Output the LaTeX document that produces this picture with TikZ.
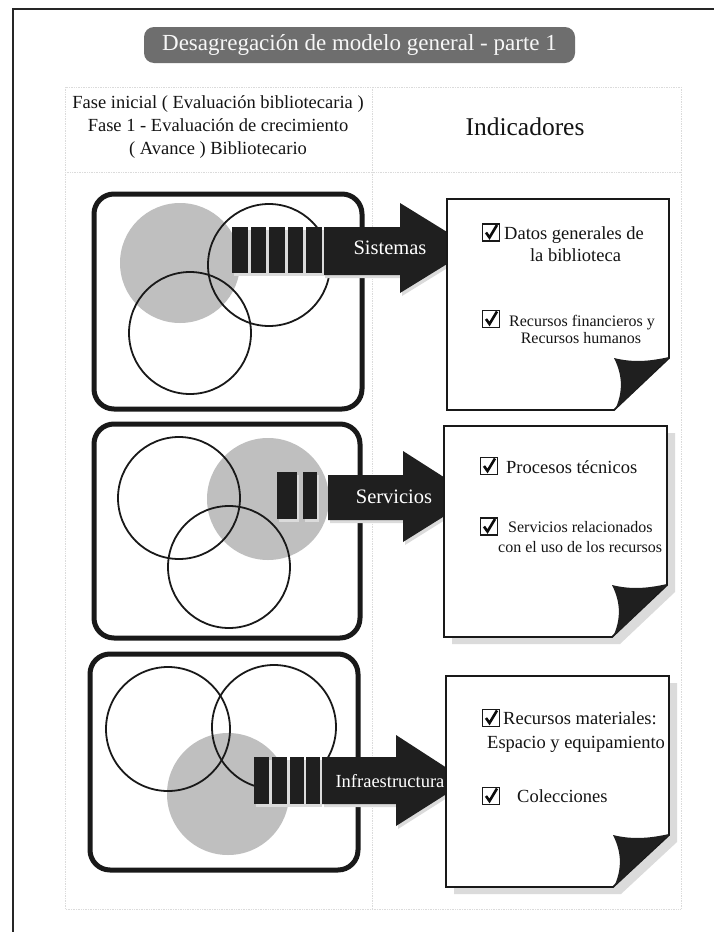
\documentclass[tikz,border=0pt]{standalone}
\usepackage{fontspec}
\setmainfont{Liberation Serif}
\newcommand\fsz[1]{\fontsize{#1}{1.22\dimexpr#1pt\relax}\selectfont}
\tikzset{
  x=1pt, y=-1pt,
  frame/.style={draw=black!85, line width=2.5pt},
  gridline/.style={draw=black!14, line width=0.7pt, densely dotted},
  titlebox/.style={fill=black!57, rounded corners=10pt, inner sep=0pt},
  panel/.style={draw=black!90, line width=5pt, rounded corners=20pt},
  ring/.style={draw=black!90, line width=1.8pt},
  disc/.style={fill=black!25},
  barfill/.style={fill=black!88},
  arrfill/.style={fill=black!88},
  shade/.style={fill=black!14},
  page/.style={draw=black!90, fill=white, line width=1.8pt, line join=miter},
  curl/.style={fill=black!88},
  lbl/.style={text=white, inner sep=0pt},
  txt/.style={inner sep=0pt, text=black!92},
  chkbox/.style={draw=black!90, line width=1.6pt, minimum size=17pt, inner sep=0pt, fill=white},
  chkmark/.style={draw=black!95, line width=2.6pt, line cap=butt, line join=miter},
}
% checkbox: name, x, y
\newcommand\chk[3]{%
  \node[chkbox] (#1) at (#2,#3) {};
  \draw[chkmark] ([shift={(-5,0)}]#1.center) -- ([shift={(-1.5,5)}]#1.center) -- ([shift={(6,-7.5)}]#1.center);
}
% note page: L,T,R,B,Fx,Fy
\newcommand\notepage[6]{%
  \path[page] (#1,#2) -- (#3,#2) -- (#3,#6) -- (#5,#4) -- (#1,#4) -- cycle;
  \fill[curl] (#5,#6) .. controls (#5+20,#6+5) and (#3-18,#6+3) .. (#3,#6-1)
     -- (#5+1,#4) .. controls (#5+9,#4-18) and (#5+9,#6+18) .. (#5,#6) -- cycle;
}
\newcommand\pageshadow[6]{%
  \fill[shade] (#1+8,#2+7) -- (#3+8,#2+7) -- (#3+8,#6+7) -- (#5+8,#4+7) -- (#1+8,#4+7) -- cycle;
}
\begin{document}
\begin{tikzpicture}
\useasboundingbox (0,0) rectangle (714,932);
\fill[white] (0,0) rectangle (714,932);
% outer frame
\draw[frame] (13,934) -- (13,9) -- (716,9);
% table grid
\draw[gridline] (65,87) rectangle (681,909);
\draw[gridline] (372,87) -- (372,909);
\draw[gridline] (65,172) -- (681,172);
% title
\node[titlebox, minimum width=431pt, minimum height=36pt, text=black!3, font=\fsz{23}] (title) at (359.5,45)
  {Desagregación de modelo general - parte 1};
% header
\node[txt, align=center, font={\fontsize{18.5}{23}\selectfont}] (hleft) at (218,127)
  {Fase inicial ( Evaluación bibliotecaria )\\ Fase 1 - Evaluación de crecimiento\\ ( Avance ) Bibliotecario};
\node[txt, font=\fsz{25.5}] (hright) at (525,127) {Indicadores};

% ---------------- Row 1 ----------------
\draw[panel] (94,194) rectangle (362,409);
\fill[disc] (180,263) circle (60pt);
\draw[ring] (269,265) circle (61pt);
\draw[ring] (190,333) circle (61pt);
\begin{scope}[shift={(2,3)}]
  \fill[shade] (232,227) rectangle (321.5,273);
  \fill[shade] (323,227) -- (400,227) -- (400,203) -- (473,248) -- (400,293) -- (400,275) -- (323,275) -- cycle;
\end{scope}
\foreach \i in {0,...,4} { \fill[barfill] (232+\i*18.5,227) rectangle (247.5+\i*18.5,273); }
\fill[arrfill] (324,227) -- (400,227) -- (400,203) -- (473,248) -- (400,293) -- (400,275) -- (324,275) -- cycle;
\node[lbl, font=\fsz{20.5}] (a1) at (390,248) {Sistemas};
\notepage{447}{199}{669}{410}{614}{358}
\chk{c11}{491}{232.5}
\node[txt, anchor=base west, font=\fsz{18.5}] (t11) at (504,239) {Datos generales de};
\node[txt, anchor=base, font=\fsz{18.5}] (t12) at (575.5,261) {la biblioteca};
\chk{c12}{491}{319}
\node[txt, anchor=base west, font=\fsz{16}] (t13) at (509,326.5) {Recursos financieros y};
\node[txt, anchor=base, font=\fsz{16}] (t14) at (581,343) {Recursos humanos};

% ---------------- Row 2 ----------------
\draw[panel] (94,424) rectangle (360,638);
\fill[disc] (268,499) circle (61pt);
\draw[ring] (179,498) circle (61pt);
\draw[ring] (229,567) circle (61pt);
\begin{scope}[shift={(2,3)}]
  \fill[shade] (277,472) rectangle (297,519);
  \fill[shade] (303,472) rectangle (317,519);
  \fill[shade] (328,475) -- (403,475) -- (403,451) -- (475,497) -- (403,542) -- (403,520) -- (328,520) -- cycle;
\end{scope}
\fill[barfill] (277,472) rectangle (297,519);
\fill[barfill] (303,472) rectangle (317,519);
\fill[arrfill] (328,475) -- (403,475) -- (403,451) -- (475,497) -- (403,542) -- (403,520) -- (328,520) -- cycle;
\node[lbl, font=\fsz{20.5}] (a2) at (394,497) {Servicios};
\pageshadow{444}{426}{667}{637}{612}{585}
\notepage{444}{426}{667}{637}{612}{585}
\chk{c21}{489}{466}
\node[txt, anchor=base west, font=\fsz{18.5}] (t21) at (506,473) {Procesos técnicos};
\chk{c22}{489}{526.5}
\node[txt, anchor=base west, font=\fsz{16}] (t22) at (508,532.5) {Servicios relacionados};
\node[txt, anchor=base west, font=\fsz{16}] (t23) at (498,552.5) {con el uso de los recursos};

% ---------------- Row 3 ----------------
\draw[panel] (90,654) rectangle (358,870);
\fill[disc] (228,794) circle (61pt);
\draw[ring] (168,729) circle (62pt);
\draw[ring] (274,727) circle (62pt);
\begin{scope}[shift={(2,3)}]
  \fill[shade] (254,757) rectangle (320,804);
  \fill[shade] (322,757) -- (396,757) -- (396,735) -- (467,781) -- (396,826) -- (396,804) -- (322,804) -- cycle;
\end{scope}
\fill[barfill] (254,757) rectangle (269,804);
\fill[barfill] (272,757) rectangle (287,804);
\fill[barfill] (289.5,757) rectangle (303.5,804);
\fill[barfill] (306,757) rectangle (320,804);
\fill[arrfill] (322,757) -- (396,757) -- (396,735) -- (467,781) -- (396,826) -- (396,804) -- (322,804) -- cycle;
\node[lbl, font=\fsz{18.5}] (a3) at (390,781) {Infraestructura};
\pageshadow{446}{676}{669}{887}{613}{835}
\notepage{446}{676}{669}{887}{613}{835}
\chk{c31}{491}{718}
\node[txt, anchor=base west, font=\fsz{18.5}] (t31) at (503,724) {Recursos materiales:};
\node[txt, anchor=base west, font=\fsz{18.5}] (t32) at (487,748) {Espacio y equipamiento};
\chk{c32}{491}{796}
\node[txt, anchor=base west, font=\fsz{18.5}] (t33) at (517,802) {Colecciones};
\end{tikzpicture}
\end{document}
